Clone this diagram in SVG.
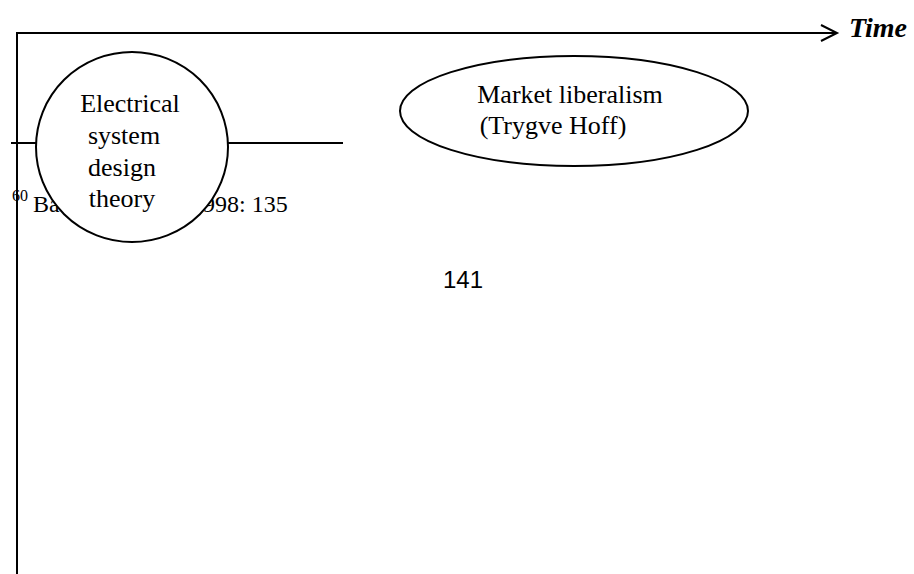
<svg xmlns="http://www.w3.org/2000/svg" width="914" height="574" viewBox="0 0 914 574">
<style>
.ln{stroke:#000;stroke-width:2;fill:none}
.nd{fill:#fff;stroke:#000;stroke-width:2}
.t{font-family:"Liberation Serif","Times New Roman",serif;font-size:26px;fill:#000}
</style>
<rect width="914" height="574" fill="#fff"/>
<g id="connectors">
<line class="ln" x1="17" y1="33" x2="17" y2="574"/>
<line class="ln" x1="16" y1="33" x2="837" y2="33"/>
<polyline class="ln" points="821,25 837,33 821,41"/>
</g>
<g id="footnote">
<line class="ln" x1="11" y1="143" x2="343" y2="143"/>
<text class="t" x="12" y="201" style="font-size:16px">60</text>
<text class="t" x="33" y="212" style="font-size:24px">Ba</text>
<text class="t" x="203" y="212" style="font-size:24px">998: 135</text>
</g>
<g id="time-label">
<text class="t" x="849" y="37" style="font-weight:bold;font-style:italic;font-size:28px">Time</text>
</g>
<g id="node-electrical">
<ellipse class="nd" cx="132" cy="147" rx="96" ry="95"/>
<text class="t" x="130" y="112" text-anchor="middle">Electrical</text>
<text class="t" x="124" y="144" text-anchor="middle">system</text>
<text class="t" x="122" y="176" text-anchor="middle">design</text>
<text class="t" x="122" y="207" text-anchor="middle">theory</text>
</g>
<g id="node-market">
<ellipse class="nd" cx="574" cy="111" rx="174" ry="55"/>
<text class="t" x="570" y="103" text-anchor="middle">Market liberalism</text>
<text class="t" x="553" y="134" text-anchor="middle">(Trygve Hoff)</text>
</g>
<g id="page-number">
<text x="463" y="288" text-anchor="middle" style="font-family:'Liberation Sans',Arial,sans-serif;font-size:24px">141</text>
</g>
</svg>
